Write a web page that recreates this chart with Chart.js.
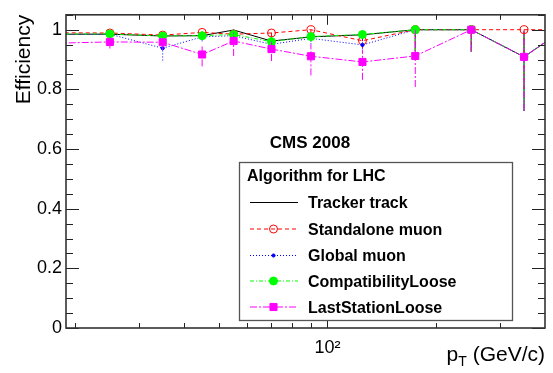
<!DOCTYPE html>
<html>
<head>
<meta charset="utf-8">
<script src="https://cdn.jsdelivr.net/npm/chart.js@4.4.1/dist/chart.umd.min.js"></script>
<style>
  html, body { margin: 0; padding: 0; background: #fff; }
  #wrap { width: 553px; height: 373px; }
</style>
</head>
<body>
<div id="wrap"><canvas id="effChart"></canvas></div>
<script>
// pT bin centres (GeV/c); first and last fall just outside the drawn range
var ptBins = [15, 25, 35, 45, 55, 70, 90, 125, 175, 250, 350, 450];

var trackerEff   = [0.985, 0.985, 0.979, 0.980, 0.999, 0.962, 0.976, 0.983, 1.000, 1.000, 0.909, 1.000];
var trackerErrLo = [0.010, 0.010, 0.015, 0.012, 0.006, 0.020, 0.015, 0.015, 0.072, 0.073, 0.181, 0.100];
var trackerErrHi = [0.008, 0.008, 0.010, 0.010, 0.001, 0.015, 0.012, 0.010, 0.000, 0.000, 0.085, 0.000];

var standaloneEff   = [0.990, 0.989, 0.982, 0.991, 0.985, 0.989, 1.000, 0.963, 1.000, 1.000, 1.000, 1.000];
var standaloneErrLo = [0.008, 0.008, 0.012, 0.010, 0.010, 0.012, 0.012, 0.025, 0.072, 0.073, 0.200, 0.100];
var standaloneErrHi = [0.006, 0.006, 0.008, 0.006, 0.008, 0.008, 0.000, 0.015, 0.000, 0.000, 0.000, 0.000];

var globalEff   = [0.983, 0.985, 0.938, 0.976, 0.980, 0.951, 0.971, 0.949, 1.000, 1.000, 0.909, 1.000];
var globalErrLo = [0.010, 0.010, 0.041, 0.015, 0.015, 0.025, 0.020, 0.025, 0.072, 0.073, 0.181, 0.100];
var globalErrHi = [0.008, 0.008, 0.030, 0.010, 0.010, 0.020, 0.015, 0.020, 0.000, 0.000, 0.085, 0.000];

var compatEff   = [0.985, 0.986, 0.979, 0.980, 0.984, 0.960, 0.977, 0.984, 1.000, 1.000, 0.909, 1.000];
var compatErrLo = [0.010, 0.010, 0.015, 0.012, 0.012, 0.020, 0.015, 0.015, 0.072, 0.073, 0.181, 0.100];
var compatErrHi = [0.008, 0.008, 0.010, 0.010, 0.008, 0.015, 0.012, 0.010, 0.000, 0.000, 0.085, 0.000];

var lastStationEff   = [0.953, 0.959, 0.958, 0.917, 0.962, 0.935, 0.911, 0.892, 0.912, 1.000, 0.909, 1.000];
var lastStationErrLo = [0.020, 0.022, 0.025, 0.040, 0.050, 0.040, 0.064, 0.060, 0.104, 0.073, 0.181, 0.100];
var lastStationErrHi = [0.015, 0.015, 0.020, 0.030, 0.028, 0.025, 0.040, 0.040, 0.088, 0.000, 0.085, 0.000];

var yMajorTicks = [0, 0.2, 0.4, 0.6, 0.8, 1];
var xMinorTicks = [20, 30, 40, 50, 60, 70, 80, 90, 200, 300];
var xMajorTicks = [100];

var FONT = "'Liberation Sans', Arial, Helvetica, sans-serif";

function pts(vals) {
    return ptBins.map(function(p, i) { return {x: p, y: vals[i]}; });
}

// vertical error bars, drawn just under each graph
var errorBars = {
    id: 'errorBars',
    beforeDatasetDraw: function(chart, args) {
        var ds = chart.data.datasets[args.index];
        if (!ds.errLo) return;
        var ctx = chart.ctx, a = chart.chartArea, ys = chart.scales.y;
        ctx.save();
        ctx.beginPath();
        ctx.rect(a.left, a.top, a.right - a.left, a.bottom - a.top);
        ctx.clip();
        ctx.strokeStyle = ds.borderColor;
        ctx.lineWidth = 1;
        ctx.setLineDash(ds.borderDash || []);
        args.meta.data.forEach(function(el, i) {
            var v = ds.data[i].y;
            ctx.beginPath();
            ctx.moveTo(el.x, ys.getPixelForValue(v - ds.errLo[i]));
            ctx.lineTo(el.x, ys.getPixelForValue(v + ds.errHi[i]));
            ctx.stroke();
        });
        ctx.restore();
    }
};

function marker(ctx, ds, x, y) {
    var r = ds.pointRadius;
    if (!r) return;
    ctx.setLineDash([]);
    ctx.fillStyle = ds.pointBackgroundColor;
    ctx.strokeStyle = ds.pointBorderColor;
    ctx.lineWidth = ds.pointBorderWidth || 1;
    ctx.beginPath();
    if (ds.pointStyle === 'rect') {
        var s = r * Math.SQRT1_2;
        ctx.rect(x - s, y - s, 2 * s, 2 * s);
    } else {
        ctx.arc(x, y, r, 0, Math.PI * 2);
    }
    ctx.fill();
    ctx.stroke();
}

// ROOT style frame, ticks, texts and legend box
var rootFrame = {
    id: 'rootFrame',
    afterDraw: function(chart) {
        var ctx = chart.ctx, a = chart.chartArea, xs = chart.scales.x, ys = chart.scales.y;
        ctx.save();
        ctx.setLineDash([]);
        ctx.strokeStyle = '#222';
        ctx.lineWidth = 1;

        // y ticks both sides
        for (var k = 0; k <= 21; k++) {
            var py = Math.round(ys.getPixelForValue(k * 0.05)) + 0.5;
            var len = (k % 4 === 0) ? 13 : 7;
            ctx.beginPath();
            ctx.moveTo(a.left, py); ctx.lineTo(a.left + len, py);
            ctx.moveTo(a.right, py); ctx.lineTo(a.right - len, py);
            ctx.stroke();
        }
        // x ticks top and bottom
        function xTick(v, len) {
            var px = Math.round(xs.getPixelForValue(v)) + 0.5;
            ctx.beginPath();
            ctx.moveTo(px, a.bottom); ctx.lineTo(px, a.bottom - len);
            ctx.moveTo(px, a.top); ctx.lineTo(px, a.top + len);
            ctx.stroke();
        }
        xMinorTicks.forEach(function(v) { xTick(v, 5); });
        xMajorTicks.forEach(function(v) { xTick(v, 10); });

        ctx.strokeStyle = '#333';
        ctx.lineWidth = 1.6;
        ctx.strokeRect(a.left, a.top, a.right - a.left, a.bottom - a.top);

        // x axis title with subscript
        ctx.fillStyle = '#000';
        ctx.textBaseline = 'alphabetic';
        ctx.textAlign = 'left';
        ctx.font = '21px ' + FONT;
        var rest = ' (GeV/c)';
        var wRest = ctx.measureText(rest).width;
        var wP = ctx.measureText('p').width;
        ctx.font = '14px ' + FONT;
        var wT = ctx.measureText('T').width;
        var x0 = a.right - wRest - wT - wP;
        ctx.font = '21px ' + FONT;
        ctx.fillText('p', x0, 361);
        ctx.fillText(rest, x0 + wP + wT, 361);
        ctx.font = '14px ' + FONT;
        ctx.fillText('T', x0 + wP, 366);

        // CMS label
        ctx.font = 'bold 17px ' + FONT;
        ctx.textAlign = 'center';
        ctx.fillText('CMS 2008', 310, 148);

        // legend
        var L = 239.5, R = 512.5, T = 162.5, B = 320.5;
        ctx.fillStyle = '#fff';
        ctx.fillRect(L, T, R - L, B - T);
        ctx.strokeStyle = '#555';
        ctx.lineWidth = 1.3;
        ctx.strokeRect(L, T, R - L, B - T);
        ctx.fillStyle = '#000';
        ctx.textAlign = 'left';
        ctx.font = 'bold 16px ' + FONT;
        ctx.fillText('Algorithm for LHC', 247, 181);

        var rows = [202, 228.5, 255, 280.5, 306.5];
        var order = [0, 1, 2, 3, 4];
        order.forEach(function(di, r) {
            var ds = chart.data.datasets[di];
            var cy = rows[r];
            ctx.strokeStyle = ds.borderColor;
            ctx.lineWidth = 1;
            ctx.setLineDash(ds.borderDash || []);
            ctx.beginPath();
            ctx.moveTo(250, cy + 0.5); ctx.lineTo(298, cy + 0.5);
            ctx.stroke();
            marker(ctx, ds, 273.5, cy + 0.5);
            ctx.fillStyle = '#000';
            ctx.font = 'bold 16px ' + FONT;
            ctx.fillText(ds.label, 308, cy + 6);
        });
        ctx.restore();
    }
};

var datasets = [
    {label: 'Tracker track', data: pts(trackerEff), errLo: trackerErrLo, errHi: trackerErrHi,
     borderColor: '#000000', borderWidth: 1, pointRadius: 0, order: 5},
    {label: 'Standalone muon', data: pts(standaloneEff), errLo: standaloneErrLo, errHi: standaloneErrHi,
     borderColor: '#ff0000', borderWidth: 1, borderDash: [4, 3],
     pointStyle: 'circle', pointRadius: 4, pointBackgroundColor: 'rgba(255,255,255,0)',
     pointBorderColor: '#ff0000', pointBorderWidth: 1, order: 4},
    {label: 'Global muon', data: pts(globalEff), errLo: globalErrLo, errHi: globalErrHi,
     borderColor: '#0000ff', borderWidth: 1, borderDash: [1, 2],
     pointStyle: 'circle', pointRadius: 1.6, pointBackgroundColor: '#0000ff',
     pointBorderColor: '#0000ff', pointBorderWidth: 1, order: 3},
    {label: 'CompatibilityLoose', data: pts(compatEff), errLo: compatErrLo, errHi: compatErrHi,
     borderColor: '#00ff00', borderWidth: 1, borderDash: [4, 2, 1, 2],
     pointStyle: 'circle', pointRadius: 4, pointBackgroundColor: '#00ff00',
     pointBorderColor: '#00ff00', pointBorderWidth: 1, order: 2},
    {label: 'LastStationLoose', data: pts(lastStationEff), errLo: lastStationErrLo, errHi: lastStationErrHi,
     borderColor: '#ff00ff', borderWidth: 1, borderDash: [7, 2, 2, 2],
     pointStyle: 'rect', pointRadius: 5, pointBackgroundColor: '#ff00ff',
     pointBorderColor: '#ff00ff', pointBorderWidth: 1, order: 1}
];

new Chart(document.getElementById('effChart'), {
    type: 'line',
    data: {datasets: datasets},
    options: {
        responsive: true,
        maintainAspectRatio: false,
        animation: false,
        events: [],
        layout: {padding: {left: 6, right: 8, top: 6, bottom: 0}},
        elements: {line: {tension: 0, fill: false}},
        plugins: {legend: {display: false}, tooltip: {enabled: false}},
        scales: {
            x: {
                type: 'logarithmic',
                min: 18.9,
                max: 400,
                grid: {display: false, drawTicks: false},
                border: {display: false},
                afterBuildTicks: function(scale) {
                    scale.ticks = xMajorTicks.map(function(v) { return {value: v}; });
                },
                afterFit: function(scale) { scale.height = 45; },
                ticks: {
                    autoSkip: false,
                    maxRotation: 0,
                    padding: 9,
                    color: '#000',
                    font: {family: FONT, size: 18},
                    callback: function(v) { return v === 100 ? '10\u00B2' : ''; }
                }
            },
            y: {
                type: 'linear',
                min: 0,
                max: 1.05,
                grid: {display: false, drawTicks: false},
                border: {display: false},
                afterBuildTicks: function(scale) {
                    scale.ticks = yMajorTicks.map(function(v) { return {value: v}; });
                },
                afterFit: function(scale) { scale.width = 60; },
                ticks: {
                    padding: 4,
                    color: '#000',
                    font: {family: FONT, size: 18},
                    callback: function(v) { return String(Math.round(v * 10) / 10); }
                },
                title: {
                    display: true,
                    text: 'Efficiency',
                    align: 'end',
                    color: '#000',
                    padding: {top: 6, bottom: 0},
                    font: {family: FONT, size: 21}
                }
            }
        }
    },
    plugins: [errorBars, rootFrame]
});
</script>
</body>
</html>
